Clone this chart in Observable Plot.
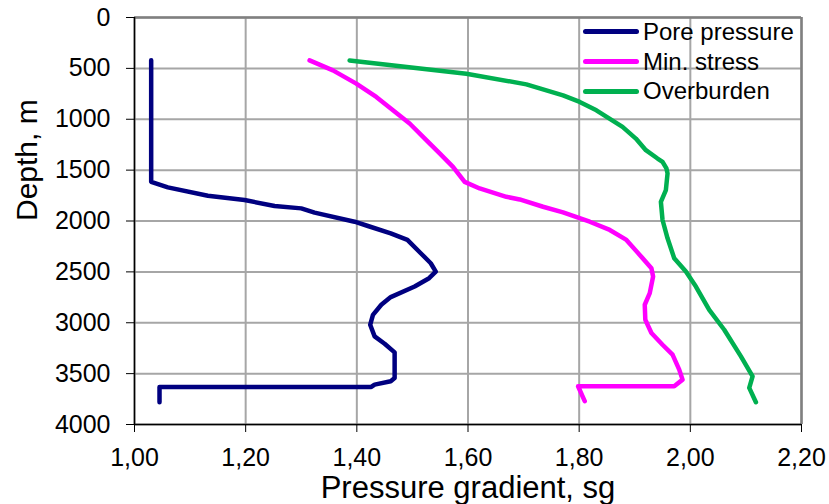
<!DOCTYPE html>
<html>
<head>
<meta charset="utf-8">
<script src="https://cdn.jsdelivr.net/npm/d3@7"></script>
<script src="https://cdn.jsdelivr.net/npm/@observablehq/plot@0.6"></script>
<style>
  body { margin: 0; background: #fff; }
  #wrap { position: relative; width: 829px; height: 504px; font-family: "Liberation Sans", Arial, sans-serif; }
  #legend { position: absolute; left: 583px; top: 17px; }
  .row { display: flex; align-items: center; height: 29.7px; }
  .sw { width: 56px; height: 5px; border-radius: 3px; margin-right: 4px; }
  .lab { font-size: 24px; color: #000; line-height: 1; }
</style>
</head>
<body>
<div id="wrap"><div id="legend"></div></div>
<script>
// Series names and colours
const seriesNames = ["Pore pressure", "Min. stress", "Overburden"];
const seriesColors = ["#000080", "#ff00ff", "#00b050"];

// Pore pressure gradient (sg) vs depth (m)
const poreX = [1.030,1.030,1.030,1.060,1.132,1.198,1.252,1.300,1.324,1.396,1.420,1.461,1.491,1.515,1.533,1.542,1.530,1.504,1.461,1.444,1.429,1.424,1.432,1.450,1.468,1.468,1.461,1.432,1.426,1.045,1.045];
const poreD = [420,1600,1615,1670,1752,1794,1853,1876,1918,2007,2049,2121,2186,2317,2415,2497,2562,2644,2748,2823,2922,3020,3134,3206,3291,3543,3575,3608,3631,3631,3781];

// Minimum stress gradient
const minX = [1.315,1.357,1.399,1.435,1.465,1.495,1.525,1.549,1.573,1.594,1.621,1.669,1.693,1.735,1.771,1.819,1.855,1.885,1.909,1.930,1.933,1.927,1.918,1.919,1.930,1.950,1.968,1.980,1.986,1.971,1.798,1.810];
const minD = [422,520,650,781,912,1042,1206,1336,1468,1615,1680,1762,1788,1860,1915,2007,2088,2186,2333,2464,2546,2709,2823,2970,3101,3216,3314,3461,3559,3624,3624,3771];

// Overburden gradient
const obX = [1.387,1.597,1.705,1.771,1.801,1.831,1.878,1.902,1.920,1.941,1.950,1.957,1.959,1.956,1.947,1.950,1.959,1.971,1.992,2.010,2.034,2.061,2.091,2.112,2.106,2.118];
const obD = [422,552,657,765,830,912,1075,1190,1304,1386,1418,1483,1532,1696,1811,1990,2170,2366,2497,2644,2873,3069,3330,3526,3640,3781];

// Axis ticks
const xTicks = [1.0,1.2,1.4,1.6,1.8,2.0,2.2];
const yTicks = [0,500,1000,1500,2000,2500,3000,3500,4000];

const xsAll = [poreX, minX, obX];
const dsAll = [poreD, minD, obD];
const data = seriesNames.flatMap((name, i) =>
  xsAll[i].map((x, j) => ({series: name, x, depth: dsAll[i][j]})));

const fmt = d => d3.format(".2f")(d).replace(".", ",");

const chart = Plot.plot({
  width: 829,
  height: 504,
  marginLeft: 134,
  marginRight: 28,
  marginTop: 17,
  marginBottom: 80,
  style: {fontFamily: "'Liberation Sans', Arial, sans-serif", fontSize: "25px", color: "#000", background: "#fff"},
  x: {domain: [1.0, 2.2]},
  y: {domain: [0, 4000], reverse: true},
  color: {domain: seriesNames, range: seriesColors},
  marks: [
    Plot.gridX(xTicks, {stroke: "#a6a6a6", strokeOpacity: 1, strokeWidth: 2}),
    Plot.gridY(yTicks, {stroke: "#a6a6a6", strokeOpacity: 1, strokeWidth: 2}),
    Plot.ruleX([2.2], {stroke: "#808080", strokeWidth: 2.5}),
    Plot.ruleY([0], {stroke: "#808080", strokeWidth: 2.5}),
    Plot.axisX({ticks: xTicks, tickFormat: fmt, tickSize: 8, tickPadding: 16, label: null, fontSize: 25}),
    Plot.axisY({ticks: yTicks, tickSize: 8, tickPadding: 16, label: null, fontSize: 25, tickFormat: d => String(d)}),
    Plot.ruleX([1.0], {stroke: "#000", strokeWidth: 1.5}),
    Plot.ruleY([4000], {stroke: "#000", strokeWidth: 1.5}),
    Plot.line(data, {x: "x", y: "depth", z: "series", stroke: "series", strokeWidth: 4.5, strokeLinejoin: "round", strokeLinecap: "round", curve: "linear"}),
    Plot.text(["Pressure gradient, sg"], {frameAnchor: "bottom", dy: 64, fontSize: 31, fill: "#000", lineAnchor: "middle"}),
    Plot.text(["Depth, m"], {frameAnchor: "left", dx: -107, rotate: -90, fontSize: 30, fill: "#000", lineAnchor: "middle"})
  ]
});

const wrap = document.getElementById("wrap");
wrap.insertBefore(chart, wrap.firstChild);

const legend = document.getElementById("legend");
seriesNames.forEach((name, i) => {
  const row = document.createElement("div");
  row.className = "row";
  row.innerHTML = `<div class="sw" style="background:${seriesColors[i]}"></div><span class="lab">${name}</span>`;
  legend.appendChild(row);
});
</script>
</body>
</html>
